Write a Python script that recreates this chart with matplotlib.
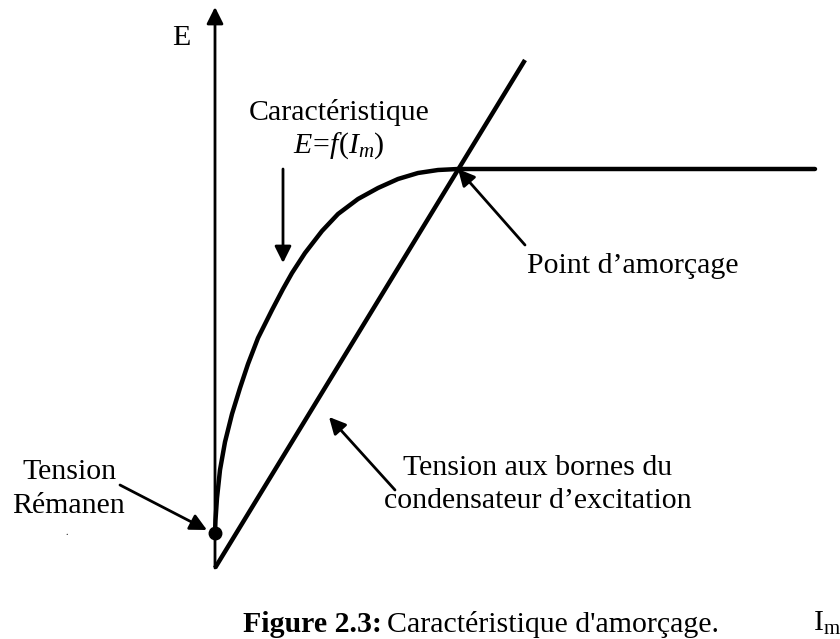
import matplotlib
matplotlib.use("Agg")
import matplotlib.pyplot as plt

#======================================================================================
# data (Im, E in arbitrary units, origin at the axes crossing)
#======================================================================================
curve_im = [0.00, 0.005, 0.02, 0.05, 0.10, 0.17, 0.25, 0.33, 0.43, 0.57, 0.68,
            0.77, 0.90, 1.07, 1.23, 1.43, 1.63, 1.83, 2.03, 2.23, 2.43, 6.00]
curve_e  = [0.35, 0.48, 0.70, 0.98, 1.26, 1.54, 1.80, 2.04, 2.30, 2.58, 2.79,
            2.95, 3.15, 3.37, 3.54, 3.69, 3.80, 3.89, 3.95, 3.98, 3.99, 3.99]
line_im  = [0.0, 3.10]
line_e   = [0.0, 5.08]
remanent = (0.0, 0.35)
amorcage = (2.43, 3.99)

plt.rcParams['font.family'] = ['Liberation Serif', 'DejaVu Serif']
plt.rcParams['mathtext.fontset'] = 'custom'
plt.rcParams['mathtext.rm'] = 'Liberation Serif'
plt.rcParams['mathtext.it'] = 'Liberation Serif:italic'

fig = plt.figure(figsize=(8.4, 6.39), dpi=100)
ax = fig.add_axes([0, 0, 1, 1])
ax.set_xlim(-2.15, 6.25)
ax.set_ylim(-0.71, 5.68)
ax.axis("off")

fs = 21.5
head = dict(arrowstyle='-|>', color='black', lw=2, mutation_scale=25, shrinkA=0, shrinkB=0)

# axes with arrows
ax.annotate('', xy=(0, 5.61), xytext=(0, 0), arrowprops=head)
ax.annotate('', xy=(6.26, 0), xytext=(0, 0), arrowprops=head)

# curves
ax.plot(curve_im, curve_e, color='black', lw=3.2, solid_capstyle='round', solid_joinstyle='round')
ax.plot(line_im, line_e, color='black', lw=3.2, solid_capstyle='butt')
ax.plot(*remanent, 'o', color='black', markersize=9, zorder=5)

# annotation arrows
ax.annotate('', xy=(0.68, 3.05), xytext=(0.68, 3.99), arrowprops=head)
ax.annotate('', xy=amorcage, xytext=(3.10, 3.23), arrowprops=head)
ax.annotate('', xy=(1.14, 1.51), xytext=(1.80, 0.78), arrowprops=head)
ax.annotate('', xy=(-0.08, 0.38), xytext=(-0.95, 0.83), arrowprops=head)

# texts
ax.text(-0.335, 5.23, "E", fontsize=fs, ha='center', va='baseline')
ax.text(1.245, 4.48, "Caractéristique", fontsize=fs, ha='center', va='baseline')
ax.text(1.235, 4.15, r"$E\!=\!f(I_m)$", fontsize=fs, ha='center', va='baseline')
ax.text(4.175, 2.95, "Point d’amorçage", fontsize=fs, ha='center', va='baseline')
ax.text(3.23, 0.93, "Tension aux bornes du", fontsize=fs, ha='center', va='baseline')
ax.text(3.23, 0.60, "condensateur d’excitation", fontsize=fs, ha='center', va='baseline')
ax.text(-1.455, 0.89, "Tension", fontsize=fs, ha='center', va='baseline')
ax.text(-1.46, 0.55, "Rémanen", fontsize=fs, ha='center', va='baseline')
ax.text(-1.48, 0.33, ".", fontsize=7, ha='center', va='baseline')
ax.text(5.98, -0.63, r"I$_\mathrm{m}$", fontsize=fs, ha='left', va='baseline')

# caption: bold label then regular text
t1 = ax.text(0.28, -0.645, "Figure 2.3:", fontsize=fs, fontweight='bold', ha='left', va='baseline')
fig.canvas.draw()
bb = t1.get_window_extent()
x_end = ax.transData.inverted().transform((bb.x1, bb.y0))[0]
ax.text(x_end + 0.05, -0.645, "Caractéristique d'amorçage.", fontsize=fs, ha='left', va='baseline')

fig.savefig('out.png', dpi=100)
